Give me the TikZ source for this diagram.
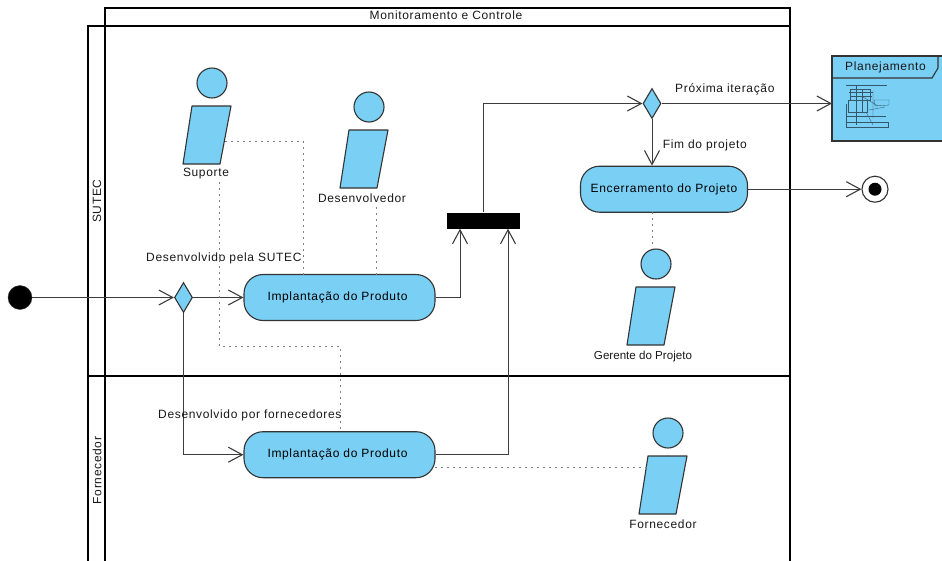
\documentclass[tikz,border=0pt]{standalone}
\usepackage{fontspec}
\setmainfont[LetterSpace=5.5]{Liberation Sans}
\newfontfamily\tightfont{Liberation Sans}
\usetikzlibrary{arrows.meta,shapes.geometric}
\definecolor{fillb}{HTML}{7ACFF5}
\definecolor{edgec}{HTML}{333333}
\definecolor{linec}{HTML}{3C3C3C}
\definecolor{thumbc}{HTML}{35566B}
\tikzset{
  x=1pt,y=-1pt,
  lane/.style={draw=black,line width=2.3pt},
  flow/.style={draw=linec,line width=1pt,-{Straight Barb[length=14pt,width=15pt,line width=1.1pt]}},
  dots/.style={draw=gray,line width=1pt,dash pattern=on 1.5pt off 4.5pt},
  act/.style={draw=edgec,fill=fillb,line width=1.1pt,rounded corners=19pt,minimum height=46pt,inner sep=0pt,font=\fontsize{12}{13}\selectfont},
  head/.style={circle,draw=edgec,fill=fillb,line width=1.1pt,minimum size=30pt,inner sep=0pt},
  body/.style={draw=edgec,fill=fillb,line width=1.1pt,line join=round},
  dia/.style={diamond,aspect=0.6,draw=edgec,fill=fillb,line width=1.1pt,minimum width=18pt,minimum height=30pt,inner sep=0pt},
  lbl/.style={inner sep=0pt,font=\fontsize{12}{13}\selectfont,text=black!90},
}
\begin{document}
\begin{tikzpicture}
\useasboundingbox (0,0) rectangle (942,560);
\fill[white] (0,0) rectangle (942,560);
% lanes
\draw[lane] (105,562) -- (105,8) -- (790,8) -- (790,562);
\draw[lane] (88,562) -- (88,26) -- (790,26);
\draw[lane] (88,376) -- (790,376);
\node[lbl] (mc) at (446,15) {Monitoramento e Controle};
\node[lbl,rotate=90] (sutec) at (97,201) {SUTEC};
\node[lbl,rotate=90] (forn) at (97,470.5) {Fornecedor};
% actors
\newcommand{\actor}[3]{%
  \node[head] (#3h) at (#1+20,#2-23) {};
  \path[body] (#1,#2) -- (#1+39,#2) -- (#1+28,#2+58) -- (#1-9,#2+58) -- cycle;
  \coordinate (#3) at (#1+15,#2+29);
}
\actor{192}{106}{asup}
\actor{349}{130}{ades}
\actor{636}{287}{ager}
\actor{648}{456}{afor}
\node[lbl] (lsup) at (206,174) {Suporte};
\node[lbl] (ldes) at (362,198) {Desenvolvedor};
\node[lbl,font=\fontsize{11.6}{13}\tightfont] (lger) at (643,356) {Gerente do Projeto};
\node[lbl] (lfor) at (663,524) {Fornecedor};
% nodes
\node[circle,fill=black,draw=edgec,minimum size=24pt,inner sep=0pt] (start) at (20,297.5) {};
\node[dia] (d1) at (183.5,297.5) {};
\node[act,minimum width=191pt] (imp1) at (339.5,297.5) {\hspace*{-4pt}Implantação do Produto};
\node[act,minimum width=191pt] (imp2) at (339.5,454.7) {\hspace*{-4pt}Implantação do Produto};
\node[act,minimum width=167pt] (enc) at (664,189.2) {Encerramento do Projeto};
\node[fill=black,minimum width=73pt,minimum height=16pt,inner sep=0pt] (bar) at (483.8,220.5) {};
\node[dia] (d2) at (652,103.5) {};
\node[circle,draw=edgec,fill=white,line width=1.1pt,minimum size=26pt,inner sep=0pt] (fin) at (875,189.2) {};
\node[circle,fill=black,minimum size=13pt,inner sep=0pt] (fini) at (875,189.2) {};
% sub-diagram
\path[draw=edgec,fill=fillb,line width=1.1pt] (945,141) -- (832,141) -- (832,56) -- (945,56);
\path[draw=edgec,line width=1.1pt] (832,78) -- (932,78) -- (938,68) -- (938,56);
\coordinate (pl) at (832,103.5);
\node[lbl,anchor=west] (lpl) at (845,67) {Planejamento};
\begin{scope}[line width=0.35pt]
\draw[thumbc] (846,85) -- (887,85);
\draw[thumbc] (850,89) rectangle (870,100);
\draw[thumbc] (849,92) -- (873,92) (851,96) -- (872,96) (856,86) -- (856,125) (862,90) -- (862,112);
\draw[thumbc] (848,100) rectangle (867,112);
\draw[thumbc] (874,100) -- (889,100) -- (889,105) -- (875,106) -- cycle;
\draw[thumbc] (873,91) -- (873,118) (866,112) -- (873,125);
\draw[thumbc] (846,116) -- (886,116);
\draw[thumbc] (846,122) rectangle (888,127);
\draw[thumbc] (846,104) -- (846,127);
\draw[thumbc] (863,97) -- (878,106) (869,110) -- (885,107);
\end{scope}
% connectors
\draw[flow] (start) -- (d1.west);
\draw[flow] (d1.east) -- (imp1.west);
\draw[flow] (d1.south) |- (imp2.west);
\path (bar.south) ++(-23.8,0) coordinate (b1) ++(48,0) coordinate (b2);
\path (bar.north) coordinate (b3);
\draw[flow] (imp1.east) -| (b1);
\draw[flow] (imp2.east) -| (b2);
\draw[flow] (b3) |- (d2.west);
\draw[flow] (d2.east) -- (pl);
\draw[flow] (d2.south) -- (enc.north -| d2.south);
\draw[flow] (enc.east) -- (fin.west);
% dotted
\coordinate (s1) at (225,141);
\draw[dots] (s1) -- (303,141) -- (303,275);
\draw[dots] (219,182) -- (219,346) -- (340,346) -- (340,432);
\draw[dots] (376,207) -- (376,275);
\draw[dots] (652,212) -- (652,248);
\draw[dots] (435,467) -- (648,467);
% labels
\node[lbl,anchor=west] (t1) at (146,258) {Desenvolvido pela SUTEC};
\node[lbl,anchor=west] (t2) at (158,415) {Desenvolvido por fornecedores};
\node[lbl,anchor=west] (t3) at (675,89) {Próxima iteração};
\node[lbl,anchor=east] (t5) at (747,145) {Fim do projeto};
\end{tikzpicture}
\end{document}
